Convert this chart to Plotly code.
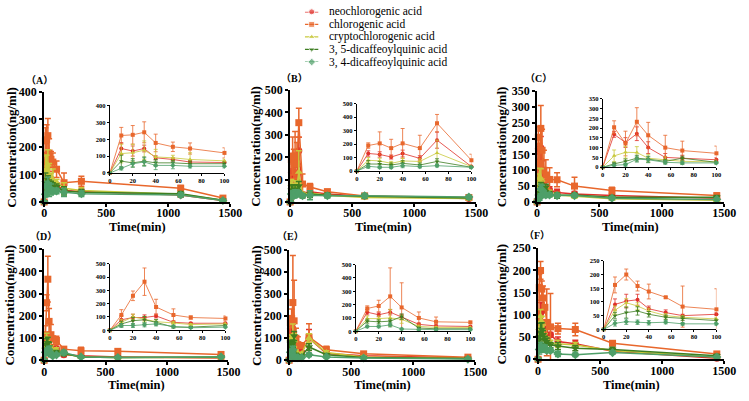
import plotly.graph_objects as go

W, H = 749, 401

# ---------------- data ----------------
compounds = ["neochlorogenic acid", "chlorogenic acid", "cryptochlorogenic acid",
             "3, 5-dicaffeoylquinic acid", "3, 4-dicaffeoylquinic acid"]
colors = ["#E0302A", "#E8672C", "#C9C93C", "#3E7E22", "#4E9F68"]
symbols = ["circle", "square", "triangle-up", "triangle-down", "diamond"]

t_early = [0, 10, 20, 30, 40, 55, 70, 100]
A_t_late = [160, 300, 1100, 1440]
B_t_late = [160, 300, 600, 1440]
C_t_late = [160, 300, 600, 1440]
D_t_late = [160, 300, 600, 1440]
E_t_late = [160, 300, 600, 1440]
F_t_late = [160, 300, 600, 1440]

A_neo = [0, 145, 130, 145, 90, 80, 65, 62, 42, 38, 25, 5]
A_neo_sd = [0, 35, 30, 20, 12, 10, 10, 8, 10, 8, 8, 3]
A_chl = [0, 222, 226, 241, 178, 155, 145, 119, 70, 75, 50, 14]
A_chl_sd = [0, 48, 55, 62, 52, 28, 33, 30, 35, 18, 10, 5]
A_cry = [0, 115, 120, 135, 95, 90, 80, 72, 50, 42, 28, 6]
A_cry_sd = [0, 55, 50, 55, 45, 15, 40, 10, 20, 10, 8, 3]
A_35 = [0, 70, 60, 70, 60, 60, 55, 55, 40, 35, 30, 6]
A_35_sd = [0, 35, 25, 25, 20, 15, 15, 10, 15, 10, 8, 3]
A_34 = [0, 28, 55, 65, 45, 45, 40, 40, 35, 30, 25, 5]
A_34_sd = [0, 10, 20, 25, 25, 20, 10, 10, 15, 10, 8, 3]

B_neo = [0, 130, 123, 104, 130, 94, 229, 33, 45, 35, 25, 15]
B_neo_sd = [0, 20, 20, 15, 25, 20, 60, 10, 10, 8, 5, 5]
B_chl = [0, 189, 205, 170, 205, 170, 354, 80, 67, 46, 27, 20]
B_chl_sd = [0, 20, 85, 65, 110, 95, 65, 45, 15, 10, 8, 5]
B_cry = [0, 80, 75, 57, 75, 71, 134, 33, 40, 30, 20, 15]
B_cry_sd = [0, 20, 20, 15, 20, 20, 95, 10, 10, 8, 5, 5]
B_35 = [0, 52, 52, 45, 57, 45, 71, 28, 35, 30, 25, 18]
B_35_sd = [0, 25, 20, 15, 20, 15, 20, 10, 15, 10, 8, 5]
B_34 = [0, 35, 28, 28, 40, 33, 40, 28, 30, 28, 28, 22]
B_34_sd = [0, 15, 10, 10, 15, 10, 10, 8, 20, 10, 10, 8]

C_neo = [0, 168, 126, 171, 100, 50, 46, 38, 30, 25, 20, 12]
C_neo_sd = [0, 15, 25, 35, 30, 20, 15, 10, 10, 8, 5, 4]
C_chl = [0, 204, 121, 232, 163, 100, 85, 71, 70, 50, 36, 20]
C_chl_sd = [0, 33, 63, 72, 66, 63, 48, 37, 22, 28, 10, 8]
C_cry = [0, 58, 76, 75, 46, 38, 30, 27, 22, 18, 10, 5]
C_cry_sd = [0, 30, 30, 30, 20, 15, 15, 10, 8, 6, 4, 3]
C_35 = [0, 17, 30, 46, 41, 30, 46, 25, 20, 22, 15, 15]
C_35_sd = [0, 8, 12, 15, 15, 10, 10, 8, 8, 6, 5, 5]
C_34 = [0, 10, 13, 41, 38, 25, 22, 22, 20, 20, 12, 8]
C_34_sd = [0, 5, 8, 15, 15, 10, 8, 6, 6, 5, 4, 3]

D_neo = [0, 79, 96, 96, 108, 60, 53, 53, 25, 20, 15, 10]
D_neo_sd = [0, 30, 25, 20, 15, 10, 5, 5, 8, 6, 5, 3]
D_chl = [0, 115, 259, 365, 175, 115, 96, 89, 50, 43, 40, 26]
D_chl_sd = [0, 40, 36, 103, 58, 46, 12, 19, 10, 15, 12, 5]
D_cry = [0, 60, 101, 84, 65, 55, 43, 48, 30, 15, 12, 12]
D_cry_sd = [0, 20, 20, 20, 15, 10, 8, 8, 8, 5, 4, 4]
D_35 = [0, 48, 72, 79, 60, 24, 24, 36, 30, 15, 12, 15]
D_35_sd = [0, 20, 25, 25, 20, 8, 6, 8, 10, 5, 4, 4]
D_34 = [0, 36, 36, 41, 48, 29, 19, 24, 35, 15, 12, 15]
D_34_sd = [0, 15, 15, 15, 15, 8, 5, 6, 10, 5, 4, 4]

E_neo = [0, 143, 124, 143, 107, 52, 40, 36, 100, 30, 20, 10]
E_neo_sd = [0, 20, 15, 20, 20, 10, 8, 6, 40, 8, 5, 3]
E_chl = [0, 171, 190, 262, 179, 100, 71, 67, 105, 48, 29, 14]
E_chl_sd = [0, 20, 43, 214, 185, 45, 36, 9, 61, 15, 6, 5]
E_cry = [0, 95, 95, 100, 90, 36, 29, 29, 100, 35, 15, 8]
E_cry_sd = [0, 20, 20, 65, 30, 10, 6, 6, 20, 8, 5, 3]
E_35 = [0, 76, 71, 76, 110, 24, 19, 19, 60, 25, 12, 8]
E_35_sd = [0, 15, 15, 15, 20, 8, 5, 5, 15, 6, 4, 3]
E_34 = [0, 36, 36, 48, 17, 12, 12, 12, 25, 15, 10, 5]
E_34_sd = [0, 10, 10, 15, 6, 5, 4, 4, 8, 5, 3, 3]

F_neo = [0, 91, 103, 108, 75, 61, 50, 55, 40, 35, 18, 2]
F_neo_sd = [0, 20, 25, 20, 10, 10, 5, 5, 10, 8, 5, 2]
F_chl = [0, 162, 200, 158, 138, 117, 83, 73, 69, 67, 36, 12]
F_chl_sd = [0, 29, 20, 18, 27, 3, 75, 75, 12, 14, 5, 3]
F_cry = [0, 70, 97, 85, 67, 50, 44, 38, 35, 32, 20, 5]
F_cry_sd = [0, 15, 15, 12, 10, 8, 6, 5, 8, 6, 5, 3]
F_35 = [0, 50, 61, 67, 55, 44, 40, 32, 30, 25, 22, 8]
F_35_sd = [0, 12, 20, 15, 10, 8, 8, 6, 8, 6, 5, 3]
F_34 = [0, 22, 28, 26, 24, 26, 20, 20, 12, 10, 15, 5]
F_34_sd = [0, 10, 10, 8, 8, 6, 5, 5, 6, 4, 4, 3]

panel_labels = ["（A）", "（B）", "（C）", "（D）", "（E）", "（F）"]
panel_ymax = [400, 500, 350, 500, 500, 250]
panel_ystep = [100, 100, 50, 100, 100, 50]
main_xticks = [0, 500, 1000, 1500]
inset_xticks = [0, 20, 40, 60, 80, 100]

panel_series = [
    ([A_neo, A_chl, A_cry, A_35, A_34], [A_neo_sd, A_chl_sd, A_cry_sd, A_35_sd, A_34_sd], A_t_late),
    ([B_neo, B_chl, B_cry, B_35, B_34], [B_neo_sd, B_chl_sd, B_cry_sd, B_35_sd, B_34_sd], B_t_late),
    ([C_neo, C_chl, C_cry, C_35, C_34], [C_neo_sd, C_chl_sd, C_cry_sd, C_35_sd, C_34_sd], C_t_late),
    ([D_neo, D_chl, D_cry, D_35, D_34], [D_neo_sd, D_chl_sd, D_cry_sd, D_35_sd, D_34_sd], D_t_late),
    ([E_neo, E_chl, E_cry, E_35, E_34], [E_neo_sd, E_chl_sd, E_cry_sd, E_35_sd, E_34_sd], E_t_late),
    ([F_neo, F_chl, F_cry, F_35, F_34], [F_neo_sd, F_chl_sd, F_cry_sd, F_35_sd, F_34_sd], F_t_late),
]

# ---------------- layout geometry (pixels of the 749x401 frame) ----------------
main_boxes = [(42, 232, 88, 202), (293, 483, 86, 202), (545, 736, 87, 202),
              (42, 230, 251, 366), (292, 482, 252, 366), (546, 736, 250, 365)]
inset_boxes = [(109, 226, 102, 172), (361, 478, 100, 170), (612, 728, 95, 166),
               (109, 227, 266, 335), (360, 477, 267, 336), (613, 728, 263, 334)]
ytitle_x = [9, 258, 509, 7, 258, 509]
xtitle_y = [228, 228, 228, 392, 392, 392]
label_pos = [(37, 76), (297, 74), (546, 74), (41, 238), (293, 238), (545, 237)]

SERIF = "Liberation Serif"


def xdom(b):
    return [b[0] / W, b[1] / W]


def ydom(b):
    return [1 - b[3] / H, 1 - b[2] / H]


def axname(i, kind):
    return kind if i == 1 else f"{kind}{i}"


fig = go.Figure()
layout = dict(autosize=True, margin=dict(l=0, r=0, t=0, b=0),
              paper_bgcolor="white", plot_bgcolor="rgba(0,0,0,0)", showlegend=False,
              hovermode=False)
annotations = []

for p in range(6):
    means, sds, t_late = panel_series[p]
    mi, ii = p + 1, p + 7
    times = t_early + t_late
    n_e = len(t_early)
    for k in range(5):
        fig.add_trace(go.Scatter(
            x=times, y=means[k], mode="lines+markers",
            xaxis=axname(mi, "x"), yaxis=axname(mi, "y"),
            line=dict(color=colors[k], width=1.5),
            marker=dict(symbol=symbols[k], size=7, color=colors[k]),
            error_y=dict(type="data", array=sds[k], color=colors[k], thickness=1.5, width=3),
            cliponaxis=False, name=compounds[k]))
    for k in range(5):
        fig.add_trace(go.Scatter(
            x=t_early, y=means[k][:n_e], mode="lines+markers",
            xaxis=axname(ii, "x"), yaxis=axname(ii, "y"),
            line=dict(color=colors[k], width=0.8),
            marker=dict(symbol=symbols[k], size=4, color=colors[k]),
            error_y=dict(type="data", array=sds[k][:n_e], color=colors[k], thickness=0.8, width=2),
            cliponaxis=False, name=compounds[k]))

    ymax, ystep = panel_ymax[p], panel_ystep[p]
    yt = list(range(0, ymax + 1, ystep))
    mb, ib = main_boxes[p], inset_boxes[p]
    main_font = dict(family=SERIF, size=12, color="black", weight="bold")
    inset_font = dict(family=SERIF, size=6.5, color="black", weight="bold")
    layout["xaxis" if mi == 1 else f"xaxis{mi}"] = dict(
        domain=xdom(mb), anchor=axname(mi, "y"), range=[0, 1500], tickvals=main_xticks,
        showline=True, linewidth=2, linecolor="black", ticks="outside", ticklen=3,
        tickwidth=2, tickcolor="black", showgrid=False, zeroline=False, tickfont=main_font,
        ticklabelstandoff=-4)
    layout["yaxis" if mi == 1 else f"yaxis{mi}"] = dict(
        domain=ydom(mb), anchor=axname(mi, "x"), range=[0, ymax], tickvals=yt,
        showline=True, linewidth=2, linecolor="black", ticks="outside", ticklen=3,
        tickwidth=2, tickcolor="black", showgrid=False, zeroline=False, tickfont=main_font)
    layout[f"xaxis{ii}"] = dict(
        domain=xdom(ib), anchor=axname(ii, "y"), range=[0, 100], tickvals=inset_xticks,
        showline=True, linewidth=1, linecolor="black", ticks="outside", ticklen=2,
        tickwidth=1, tickcolor="black", showgrid=False, zeroline=False, tickfont=inset_font,
        ticklabelstandoff=-1)
    layout[f"yaxis{ii}"] = dict(
        domain=ydom(ib), anchor=axname(ii, "x"), range=[0, ymax], tickvals=yt,
        showline=True, linewidth=1, linecolor="black", ticks="outside", ticklen=2,
        tickwidth=1, tickcolor="black", showgrid=False, zeroline=False, tickfont=inset_font)

    # axis titles and panel labels
    annotations.append(dict(text="Time(min)", xref="paper", yref="paper",
                            x=(mb[0] + mb[1]) / 2 / W, y=1 - xtitle_y[p] / H,
                            showarrow=False, xanchor="center", yanchor="middle",
                            font=dict(family=SERIF, size=12.5, color="black", weight="bold")))
    annotations.append(dict(text="Concentration(ng/ml)", xref="paper", yref="paper",
                            x=ytitle_x[p] / W, y=1 - (mb[2] + mb[3]) / 2 / H, textangle=-90,
                            showarrow=False, xanchor="center", yanchor="middle",
                            font=dict(family=SERIF, size=13, color="black", weight="bold")))
    lx, ly = label_pos[p]
    annotations.append(dict(text=panel_labels[p], xref="paper", yref="paper",
                            x=lx / W, y=1 - ly / H, showarrow=False,
                            xanchor="center", yanchor="middle",
                            font=dict(family=SERIF + ", Noto Sans CJK SC", size=10,
                                      color="black", weight="bold")))

# ---------------- custom legend ----------------
leg_idx = list(range(len(compounds)))
for k in leg_idx:
    fig.add_trace(go.Scatter(
        x=[0, 0.5, 1], y=[k, k, k], mode="lines+markers", xaxis="x13", yaxis="y13",
        line=dict(color=colors[k], width=1.2),
        marker=dict(symbol=symbols[k], size=[0, 6, 0], color=colors[k]),
        cliponaxis=False, hoverinfo="skip"))
    annotations.append(dict(text=compounds[k], xref="paper", yref="y13",
                            x=331 / W, y=k, showarrow=False, xanchor="left", yanchor="middle",
                            font=dict(family=SERIF, size=11.5, color="black")))
layout["xaxis13"] = dict(domain=[308 / W, 322 / W], anchor="y13", range=[0, 1], visible=False)
layout["yaxis13"] = dict(domain=[1 - 57 / H, 1 - 5 / H], anchor="x13",
                         range=[len(compounds) - 1, 0], visible=False)

layout["annotations"] = annotations
fig.update_layout(**layout)
fig.write_html("out.html", default_width="100vw", default_height="100vh",
               config={"displayModeBar": False, "staticPlot": True, "responsive": True},
               post_script="document.body.style.margin='0px';document.body.style.overflow='hidden';")
